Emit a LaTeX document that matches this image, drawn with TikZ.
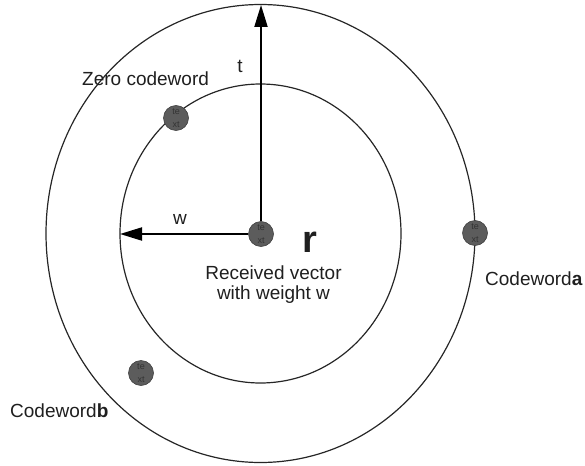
\documentclass[tikz,border=0pt]{standalone}
\usepackage{fontspec}
\setmainfont{Liberation Sans}
\usetikzlibrary{arrows.meta}
\begin{document}
\begin{tikzpicture}[x=1pt,y=-1pt,
  ring/.style={draw=black!85, line width=1.2pt},
  dotnode/.style={circle, draw=black!75, line width=0.6pt, fill=black!64, minimum size=25pt, inner sep=0pt,
    font=\fontsize{9}{13}\selectfont, text=black!80, align=center},
  vec/.style={line width=2pt, -{Triangle[length=22pt,width=13pt]}},
  lbl/.style={font=\fontsize{19}{20}\selectfont, inner sep=0pt, text=black!88}]
\useasboundingbox (0,0) rectangle (585,465);
\coordinate (c) at (260.5,233.5);
\draw[ring] (c) ellipse [x radius=214.5, y radius=229];
\draw[ring] (c) ellipse [x radius=140.5, y radius=149.5];
\coordinate (top) at (261,5);
\coordinate (left) at (120,234);
\node[dotnode] (r) at (261,234) {te\\xt};
\draw[vec] (r) -- (top);
\draw[vec] (r) -- (left);
\node[dotnode] (a) at (475,233) {te\\xt};
\node[dotnode] (z) at (176,118) {te\\xt};
\node[dotnode] (b) at (141,373) {te\\xt};
\node[lbl, anchor=base west] (zl) at (82,86) {Zero codeword};
\node[lbl] (tl) at (240,66) {t};
\node[lbl] (wl) at (180,219) {w};
\node[lbl, anchor=base west, font=\fontsize{38}{40}\selectfont\bfseries] (rl) at (302,252) {r};
\node[lbl, anchor=base] (rv1) at (273.5,279) {Received vector};
\node[lbl, anchor=base] (rv2) at (273.5,299) {with weight w};
\node[lbl, anchor=base west] (al) at (485,285) {Codeword\textbf{a}};
\node[lbl, anchor=base west] (bl) at (10,417) {Codeword\textbf{b}};
\end{tikzpicture}
\end{document}
